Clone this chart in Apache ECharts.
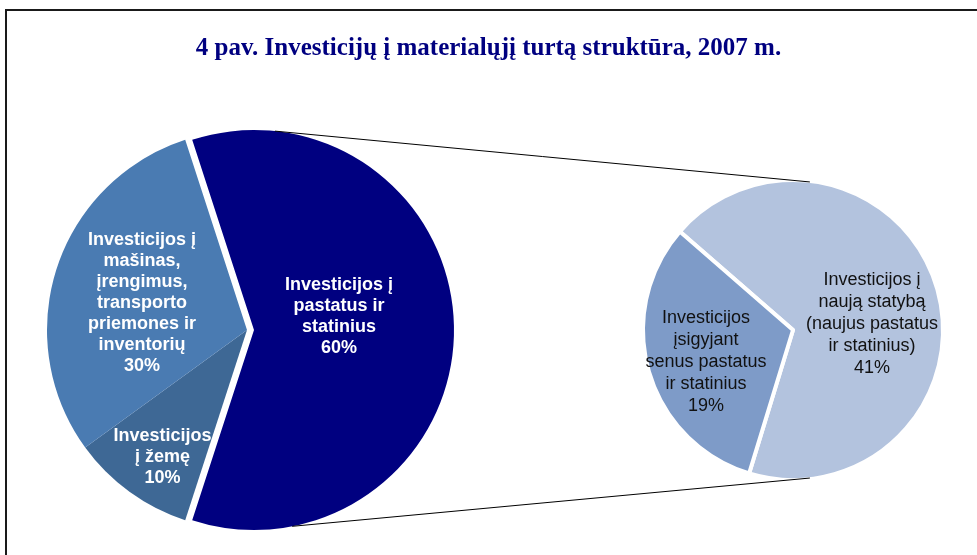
<!DOCTYPE html>
<html>
<head>
<meta charset="utf-8">
<script src="https://cdn.jsdelivr.net/npm/echarts@6/dist/echarts.min.js"></script>
<style>
  html, body { margin: 0; padding: 0; background: #fff; }
  #chart { width: 977px; height: 555px; }
</style>
</head>
<body>
<div id="chart"></div>
<script>
// pagrindinis skritulys (proc. nuo visų investicijų)
const mainNames = [
  'Investicijos į\npastatus ir\nstatinius',
  'Investicijos\nį žemę',
  'Investicijos į\nmašinas,\nįrengimus,\ntransporto\npriemones ir\ninventorių'
]
const mainValues = [60, 10, 30]
const mainColors = ['#000080', '#3E6895', '#4A7BB2']

// antrinis skritulys – pastatų ir statinių išskaidymas
const subNames = [
  'Investicijos į\nnaują statybą\n(naujus pastatus\nir statinius)',
  'Investicijos\nįsigyjant\nsenus pastatus\nir statinius'
]
const subValues = [41, 19]
const subColors = ['#B3C3DE', '#7E9BC8']

const titleText = '4 pav. Investicijų į materialųjį turtą struktūra, 2007 m.'

// išdėstymas
const mainCenter = [247, 330]
const mainRadius = 200
const mainExplode = 7
const subCenter = [793, 330]
const subRadius = 150

// šaknies kampas (kaip Excel "pie of pie")
const mainStart = 180 * mainValues[0] / 100 // 60% segmentas centruotas dešinėje
const subStart = 139

// etikečių poslinkiai
const mainLabelShift = [[-18, -13], [-24, 44], [-7, 5]]
const subLabelShift = [[4, 16], [-12, 11]]

function polar(c, r, deg) {
  const a = deg * Math.PI / 180
  return [c[0] + r * Math.cos(a), c[1] - r * Math.sin(a)]
}

const myChart = echarts.init(document.getElementById('chart'))

const explodedCenter = [mainCenter[0] + mainExplode, mainCenter[1]]
const lTop = polar(explodedCenter, mainRadius, 84)
const lBot = polar(explodedCenter, mainRadius, -79)
const rTop = polar(subCenter, subRadius - 1, 83.5)
const rBot = polar(subCenter, subRadius - 1, -83.5)

const option = {
  animation: false,
  title: {
    text: titleText,
    left: 'center',
    top: 31,
    textStyle: {
      fontFamily: 'Liberation Serif',
      fontWeight: 'bold',
      fontSize: 25,
      color: '#000080'
    }
  },
  graphic: [
    {
      type: 'polyline',
      shape: { points: [[6, 560], [6, 10], [990, 10]] },
      style: { stroke: '#1a1a1a', lineWidth: 2, fill: null }
    },
    {
      type: 'line',
      z: 10,
      shape: { x1: lTop[0], y1: lTop[1], x2: rTop[0], y2: rTop[1] },
      style: { stroke: '#000', lineWidth: 1 }
    },
    {
      type: 'line',
      z: 10,
      shape: { x1: lBot[0], y1: lBot[1], x2: rBot[0], y2: rBot[1] },
      style: { stroke: '#000', lineWidth: 1 }
    }
  ],
  series: [
    {
      name: 'main',
      type: 'pie',
      z: 3,
      center: mainCenter,
      radius: mainRadius,
      startAngle: mainStart,
      clockwise: true,
      selectedMode: 'single',
      selectedOffset: mainExplode,
      avoidLabelOverlap: false,
      silent: true,
      emphasis: { disabled: true },
      select: { itemStyle: { color: mainColors[0] } },
      itemStyle: { borderWidth: 0 },
      label: {
        position: 'inside',
        formatter: '{b}\n{c}%',
        color: '#fff',
        fontFamily: 'Liberation Sans',
        fontWeight: 'bold',
        fontSize: 18,
        lineHeight: 21,
        align: 'center'
      },
      labelLine: { show: false },
      labelLayout: (p) => ({ dx: mainLabelShift[p.dataIndex][0], dy: mainLabelShift[p.dataIndex][1] }),
      data: mainValues.map((v, i) => ({
        name: mainNames[i],
        value: v,
        selected: i === 0,
        itemStyle: { color: mainColors[i] }
      }))
    },
    {
      name: 'sub',
      type: 'pie',
      z: 3,
      center: subCenter,
      radius: subRadius,
      startAngle: subStart,
      clockwise: true,
      avoidLabelOverlap: false,
      silent: true,
      emphasis: { disabled: true },
      itemStyle: { borderColor: '#fff', borderWidth: 4 },
      label: {
        position: 'inside',
        formatter: '{b}\n{c}%',
        color: '#111',
        fontFamily: 'Liberation Sans',
        fontSize: 18,
        lineHeight: 22,
        align: 'center'
      },
      labelLine: { show: false },
      labelLayout: (p) => ({ dx: subLabelShift[p.dataIndex][0], dy: subLabelShift[p.dataIndex][1] }),
      data: subValues.map((v, i) => ({
        name: subNames[i],
        value: v,
        itemStyle: { color: subColors[i] }
      }))
    }
  ]
}

option && myChart.setOption(option)
</script>
</body>
</html>
